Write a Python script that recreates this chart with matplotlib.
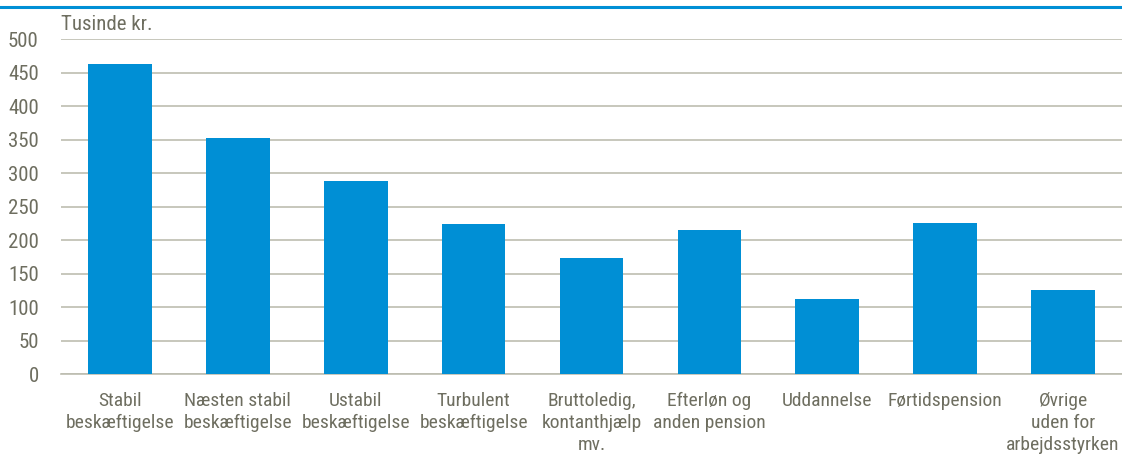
import matplotlib.pyplot as plt
from matplotlib import font_manager

categories = ['Stabil\nbeskæftigelse', 'Næsten stabil\nbeskæftigelse', 'Ustabil\nbeskæftigelse',
              'Turbulent\nbeskæftigelse', 'Bruttoledig,\nkontanthjælp\nmv.', 'Efterløn og\nanden pension',
              'Uddannelse', 'Førtidspension', 'Øvrige\nuden for\narbejdsstyrken']
values = [462, 352, 288, 224, 173, 215, 112, 226, 125]
yticks = [0, 50, 100, 150, 200, 250, 300, 350, 400, 450, 500]

names = {f.name for f in font_manager.fontManager.ttflist}
fam, fs = 'Liberation Sans', 13
for cand, size in [('Liberation Sans Narrow', 15), ('Roboto Condensed', 14),
                   ('Open Sans Condensed', 14), ('DejaVu Sans Condensed', 12.5)]:
    if cand in names:
        fam, fs = cand, size
        break
plt.rcParams['font.family'] = [fam, 'DejaVu Sans']

txt = '#6e6e60'
grid = '#bdbdb0'
blue = '#008fd5'

fig = plt.figure(figsize=(11.22, 4.61), dpi=100)
ax = fig.add_axes([61 / 1122, 1 - 374 / 461, 1061 / 1122, 335 / 461])

x = range(len(values))
ax.bar(x, values, width=0.54, color=blue, zorder=3)
ax.set_xlim(-0.5, len(values) - 0.5)
ax.set_ylim(0, 500)
ax.set_yticks(yticks)
ax.set_xticks(list(x))
ax.set_xticklabels(categories, fontsize=fs, color=txt, linespacing=1.3)
ax.tick_params(axis='y', labelsize=fs + 1, labelcolor=txt, length=0, pad=16)
ax.tick_params(axis='x', length=0, pad=13)
ax.yaxis.grid(True, color=grid, linewidth=1.2, zorder=0)
for s in ['top', 'right', 'left']:
    ax.spines[s].set_visible(False)
ax.spines['bottom'].set_color(grid)
ax.spines['bottom'].set_linewidth(1.2)

ax.text(0, 1.015, 'Tusinde kr.', transform=ax.transAxes, fontsize=fs + 1, color=txt,
        ha='left', va='bottom')

# blue line at the top
fig.add_artist(plt.Line2D([0, 1], [1 - 7 / 461, 1 - 7 / 461], color=blue, linewidth=2.2,
                          transform=fig.transFigure))

fig.savefig('out.png', dpi=100)
